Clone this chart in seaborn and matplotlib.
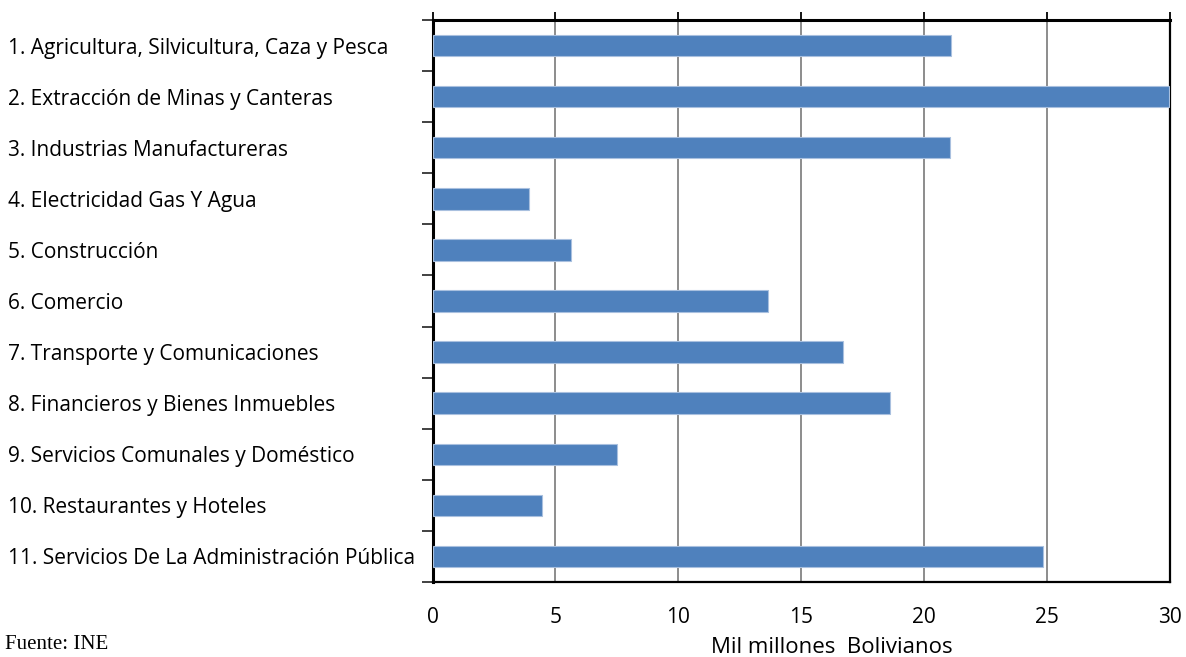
import matplotlib
matplotlib.use("Agg")
import matplotlib.pyplot as plt
from matplotlib.ticker import FixedLocator, MultipleLocator
import seaborn as sns
import pandas as pd

sectores = [
    "1. Agricultura, Silvicultura, Caza y Pesca",
    "2. Extracción de Minas y Canteras",
    "3. Industrias Manufactureras",
    "4. Electricidad Gas Y Agua",
    "5. Construcción",
    "6. Comercio",
    "7. Transporte y Comunicaciones",
    "8. Financieros y Bienes Inmuebles",
    "9. Servicios Comunales y Doméstico",
    "10. Restaurantes y Hoteles",
    "11. Servicios De La Administración Pública",
]
valores = [21.1, 29.95, 21.05, 3.92, 5.62, 13.65, 16.68, 18.59, 7.51, 4.45, 24.83]
x_ticks = [0, 5, 10, 15, 20, 25, 30]

df = pd.DataFrame({"sector": sectores, "valor": valores})

sns.set_theme(style="white")
plt.rcParams["font.family"] = ["Open Sans", "DejaVu Sans"]

W, H = 1186, 657
fig = plt.figure(figsize=(W / 100, H / 100), dpi=100)
ax = fig.add_axes([432.5 / W, 1 - 582 / H, (1170 - 432.5) / W, (582 - 20) / H])

sns.barplot(data=df, x="valor", y="sector", orient="h", width=0.42,
            color="#4F81BD", saturation=1, edgecolor="#A9C0DF", linewidth=0.8,
            ax=ax, zorder=3)

ax.set_xlim(0, 30)
ax.set_ylim(len(sectores) - 0.5, -0.5)

# value gridlines
for v in x_ticks[1:-1]:
    ax.axvline(v, color="#8C8C8C", lw=1.4, zorder=1)

ax.xaxis.set_major_locator(FixedLocator(x_ticks))
ax.tick_params(axis="x", which="major", top=True, bottom=False,
               labeltop=False, labelbottom=True, direction="out",
               length=6, width=1.3, color="black", labelsize=15, pad=12)

# category boundaries marked on the left axis
ax.yaxis.set_minor_locator(MultipleLocator(1, offset=0.5))
ax.tick_params(axis="y", which="minor", left=True, length=8, width=1.3,
               color="#333333", direction="out")
ax.tick_params(axis="y", which="major", left=False, length=0,
               labelsize=15, pad=305.5)
for lab in ax.get_yticklabels():
    lab.set_horizontalalignment("left")
    lab.set_color("black")

for lab in ax.get_xticklabels():
    lab.set_color("black")

for side, sp in ax.spines.items():
    sp.set_visible(True)
    sp.set_color("black")
    sp.set_linewidth(2.2 if side in ("left", "top") else 1.6)

ax.set_ylabel("")
ax.set_xlabel("Mil millones  Bolivianos", fontsize=16, color="black")
ax.xaxis.set_label_coords(0.542, -0.117)
ax.xaxis.label.set_verticalalignment("center")

fig.text(5 / W, 3 / H, "Fuente: INE", family="Liberation Serif",
         fontsize=15, va="bottom", ha="left", color="black")

fig.savefig("out.png", dpi=100, facecolor="white")
